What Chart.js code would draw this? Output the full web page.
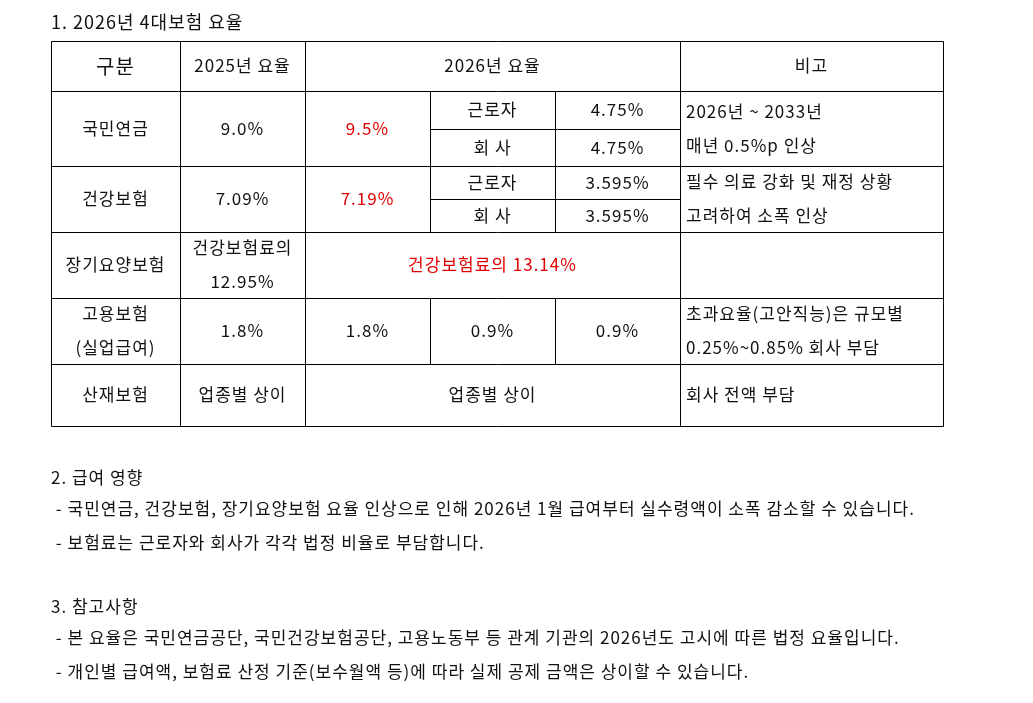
<!DOCTYPE html>
<html><head><meta charset="utf-8">
<script src="https://cdn.jsdelivr.net/npm/chart.js@4"></script>
<style>html,body{margin:0;padding:0;background:#fff}#w{width:1033px;height:703px}</style>
</head><body><div id="w"><canvas id="c"></canvas></div>
<script>
const title1 = "1. 2026년 4대보험 요율";
const headers = ["구분", "2025년 요율", "2026년 요율", "비고"];
const categories = ["국민연금", "건강보험", "장기요양보험", "고용보험\n(실업급여)", "산재보험"];
const rate2025 = ["9.0%", "7.09%", "건강보험료의\n12.95%", "1.8%", "업종별 상이"];
const rate2026 = ["9.5%", "7.19%", "건강보험료의 13.14%", "1.8%", "업종별 상이"];
const partyLabels = [["근로자", "회 사"], ["근로자", "회 사"], null, ["0.9%"], null];
const partyRates = [["4.75%", "4.75%"], ["3.595%", "3.595%"], null, ["0.9%"], null];
const notes = ["2026년 ~ 2033년\n매년 0.5%p 인상", "필수 의료 강화 및 재정 상황\n고려하여 소폭 인상", "", "초과요율(고안직능)은 규모별\n0.25%~0.85% 회사 부담", "회사 전액 부담"];
const section2 = ["2. 급여 영향", " - 국민연금, 건강보험, 장기요양보험 요율 인상으로 인해 2026년 1월 급여부터 실수령액이 소폭 감소할 수 있습니다.", " - 보험료는 근로자와 회사가 각각 법정 비율로 부담합니다."];
const section3 = ["3. 참고사항", " - 본 요율은 국민연금공단, 국민건강보험공단, 고용노동부 등 관계 기관의 2026년도 고시에 따른 법정 요율입니다.", " - 개인별 급여액, 보험료 산정 기준(보수월액 등)에 따라 실제 공제 금액은 상이할 수 있습니다."];

const FONT = '"Noto Sans CJK KR","Noto Sans",sans-serif';
const colX = [51, 180, 305, 430, 555, 680, 943];
const rowY = [41, 91, 166, 232, 298, 364, 426];

const tablePlugin = {
  id: 'table',
  afterDraw(chart) {
    const ctx = chart.ctx, sx = chart.scales.x, sy = chart.scales.y;
    const X = v => sx.getPixelForValue(v), Y = v => sy.getPixelForValue(v);
    ctx.save();
    const text = (s, x, y, opt = {}) => {
      ctx.font = (opt.size || 17) + 'px ' + FONT;
      ctx.letterSpacing = (opt.ls === undefined ? 1 : opt.ls) + 'px';
      ctx.fillStyle = opt.color || '#111';
      ctx.textAlign = opt.align || 'center';
      ctx.textBaseline = 'middle';
      ctx.fillText(s, X(x), Y(y));
    };
    const multi = (s, x, y, opt = {}) => {
      const ls = s.split('\n'), gap = opt.gap || 34;
      ls.forEach((l, i) => text(l, x, y + (i - (ls.length - 1) / 2) * gap, opt));
    };
    const line = (x1, y1, x2, y2) => {
      ctx.beginPath(); ctx.moveTo(Math.round(X(x1)) + .5, Math.round(Y(y1)) + .5);
      ctx.lineTo(Math.round(X(x2)) + .5, Math.round(Y(y2)) + .5); ctx.stroke();
    };
    ctx.strokeStyle = '#000'; ctx.lineWidth = 1;
    rowY.forEach(y => line(colX[0], y, colX[6], y));
    [0, 1, 2, 5, 6].forEach(i => line(colX[i], rowY[0], colX[i], rowY[6]));
    [[1, 3], [4, 5]].forEach(([a, b]) => { line(colX[3], rowY[a], colX[3], rowY[b]); line(colX[4], rowY[a], colX[4], rowY[b]); });
    [0, 1].forEach(r => { const m = (rowY[r + 1] + rowY[r + 2]) / 2; line(colX[3], m, colX[5], m); });

    const cx = i => (colX[i] + colX[i + 1]) / 2;
    text(title1, 51, 22, { align: 'left', size: 18 });
    text(headers[0], cx(0), 66, { size: 20 });
    text(headers[1], cx(1), 66);
    text(headers[2], (colX[2] + colX[5]) / 2, 66);
    text(headers[3], cx(5), 66);
    categories.forEach((c, r) => {
      const yc = (rowY[r + 1] + rowY[r + 2]) / 2;
      multi(c, cx(0), yc);
      multi(rate2025[r], cx(1), yc);
      const red = r < 3 ? '#e00000' : '#111';
      if (partyLabels[r] && partyLabels[r].length === 2) {
        text(rate2026[r], cx(2), yc, { color: red });
        const top = rowY[r + 1], bot = rowY[r + 2], m = (top + bot) / 2;
        [(top + m) / 2, (m + bot) / 2].forEach((yy, k) => {
          text(partyLabels[r][k], cx(3), yy);
          text(partyRates[r][k], cx(4), yy);
        });
      } else if (partyLabels[r]) {
        text(rate2026[r], cx(2), yc);
        text(partyLabels[r][0], cx(3), yc);
        text(partyRates[r][0], cx(4), yc);
      } else {
        text(rate2026[r], (colX[2] + colX[5]) / 2, yc, { color: red });
      }
      if (notes[r]) multi(notes[r], 686, yc, { align: 'left' });
    });
    const para = (arr, y0) => arr.forEach((s, i) => text(s, 51, y0 + (i === 0 ? 0 : 31 + (i - 1) * 34), { align: 'left' }));
    para(section2, 478);
    para(section3, 607);
    ctx.restore();
  }
};

new Chart(document.getElementById('c'), {
  type: 'scatter',
  data: { datasets: [{ data: [] }] },
  options: {
    responsive: true, maintainAspectRatio: false, animation: false,
    layout: { padding: 0 },
    plugins: { legend: { display: false }, tooltip: { enabled: false } },
    scales: {
      x: { type: 'linear', min: 0, max: 1033, display: false },
      y: { type: 'linear', min: 0, max: 703, reverse: true, display: false }
    }
  },
  plugins: [tablePlugin]
});
</script></body></html>
